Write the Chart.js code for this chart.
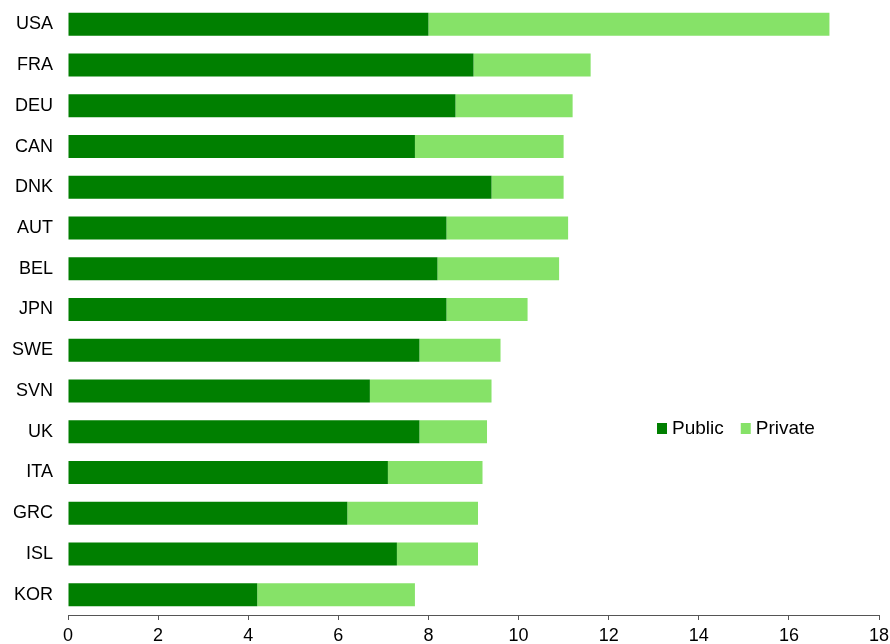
<!DOCTYPE html>
<html>
<head>
<meta charset="utf-8">
<script src="https://cdn.jsdelivr.net/npm/chart.js@4/dist/chart.umd.min.js"></script>
<style>
html,body{margin:0;padding:0;background:#fff;}
#wrap{position:relative;width:890px;height:644px;}
</style>
</head>
<body>
<div id="wrap"><canvas id="c" width="890" height="644"></canvas></div>
<script>
const categories = ["USA","FRA","DEU","CAN","DNK","AUT","BEL","JPN","SWE","SVN","UK","ITA","GRC","ISL","KOR"];
const publicValues = [8.0,9.0,8.6,7.7,9.4,8.4,8.2,8.4,7.8,6.7,7.8,7.1,6.2,7.3,4.2];
const privateValues = [8.9,2.6,2.6,3.3,1.6,2.7,2.7,1.8,1.8,2.7,1.5,2.1,2.9,1.8,3.5];
const xTicks = [0,2,4,6,8,10,12,14,16,18];

const FONT = "'Liberation Sans', Arial, sans-serif";

const legendPlugin = {
  id: 'insideLegend',
  afterDraw(chart) {
    const ctx = chart.ctx;
    ctx.save();
    ctx.font = "19px " + FONT;
    ctx.textBaseline = 'middle';
    let x = 657, y = 428;
    chart.data.datasets.forEach(ds => {
      ctx.fillStyle = ds.backgroundColor;
      ctx.fillRect(x, y - 5, 10, 11);
      ctx.fillStyle = '#000';
      ctx.fillText(ds.label, x + 15, y + 1);
      x += 15 + ctx.measureText(ds.label).width + 17;
    });
    ctx.restore();
  }
};

new Chart(document.getElementById('c'), {
  type: 'bar',
  data: {
    labels: categories,
    datasets: [
      {label: 'Public', data: publicValues, backgroundColor: '#007F00', borderWidth: 0, barPercentage: 0.565, categoryPercentage: 1.0},
      {label: 'Private', data: privateValues, backgroundColor: '#86E268', borderWidth: 0, barPercentage: 0.565, categoryPercentage: 1.0}
    ]
  },
  options: {
    indexAxis: 'y',
    responsive: false,
    animation: false,
    devicePixelRatio: 1,
    layout: {padding: {top: 4, right: 11, left: 0, bottom: 0}},
    plugins: {legend: {display: false}, tooltip: {enabled: false}},
    scales: {
      x: {
        stacked: true,
        min: 0, max: 18,
        afterBuildTicks(scale) { scale.ticks = xTicks.map(v => ({value: v})); },
        grid: {display: true, drawOnChartArea: false, drawTicks: true, tickLength: 5, color: '#555'},
        border: {display: true, color: '#555', width: 1},
        ticks: {color: '#000', font: {family: FONT, size: 18}, padding: 5, maxRotation: 0, autoSkip: false},
        afterFit(scale) { scale.height = 29; scale.paddingLeft = 0; scale.paddingRight = 0; }
      },
      y: {
        stacked: true,
        grid: {display: false, drawTicks: false},
        border: {display: false},
        ticks: {color: '#000', font: {family: FONT, size: 18}, padding: 15},
        afterFit(scale) { scale.width = 68; scale.paddingTop = 0; scale.paddingBottom = 0; }
      }
    }
  },
  plugins: [legendPlugin]
});
</script>
</body>
</html>
